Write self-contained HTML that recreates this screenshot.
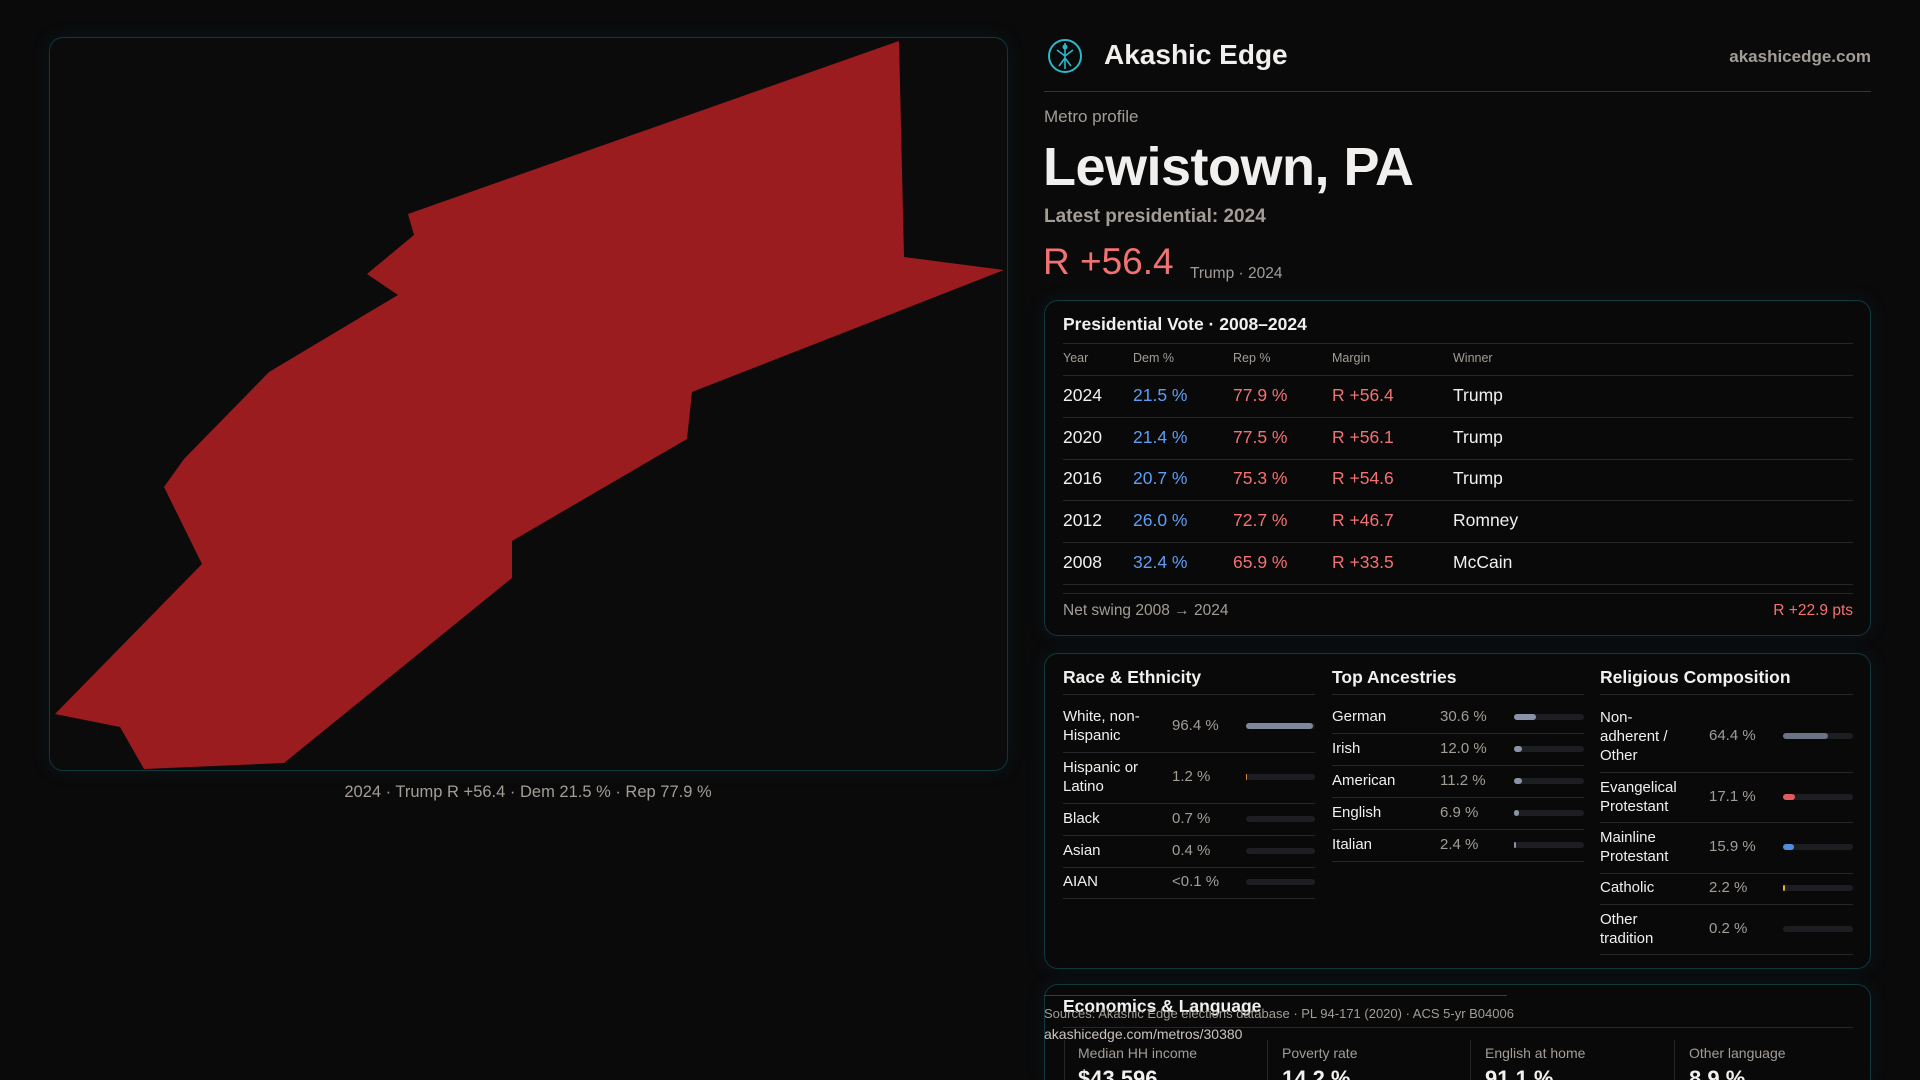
<!DOCTYPE html>
<html style="width:1920px;height:1080px;overflow:hidden"><head><meta charset="utf-8"><style>
*{margin:0;padding:0;box-sizing:border-box}
body{width:1920px;height:1080px;background:#0a0a0b;font-family:"Liberation Sans",sans-serif;color:#f2f0ee;position:relative;overflow:hidden}
.a{position:absolute;white-space:nowrap}
.card{position:absolute;border:1px solid #11383d;border-radius:14px;background:#090909;box-shadow:0 0 18px rgba(20,80,90,0.18)}
.hl{position:absolute;height:1px;background:#26272a}
.m{color:#a39d96}
.b{color:#5e9ef2}
.r{color:#f27272}
.tr{position:absolute;height:6px;border-radius:3px;background:#1d1e21}
.fl{position:absolute;height:6px;border-radius:3px;left:0;top:0}
</style></head><body>
<div class="card" style="left:49px;top:37px;width:959px;height:734px;background:#0b0b0c"></div>
<svg class="a" style="left:0;top:0" width="1030" height="800">
<polygon fill="#9a1c1f" points="899,41 904,257 1004,270 692,392 687,439 512,541 512,578 284,763 144,769 120,727 55,714 202,564 164,487 184,459 269,372 398,295 367,274 414,235 408,214"/>
</svg>
<div class="a m" style="left:0;width:1056px;text-align:center;top:783px;font-size:16.5px">2024 · Trump R +56.4 · Dem 21.5 % · Rep 77.9 %</div>

<svg class="a" style="left:1047px;top:38px" width="36" height="36" viewBox="0 0 36 36">
<circle cx="18" cy="18" r="16" fill="none" stroke="#2bb8c8" stroke-width="2"/>
<path d="M18 5 L18 31 M10 12 L18 18 L26 12 M12 28 L18 20 L24 28" stroke="#2bb8c8" stroke-width="1.6" fill="none"/>
<circle cx="18" cy="9" r="2.5" fill="#2bb8c8"/>
</svg>
<div class="a" style="left:1104px;top:39px;font-size:28px;font-weight:bold">Akashic Edge</div>
<div class="a m" style="right:49px;top:47px;font-size:17px;font-weight:bold">akashicedge.com</div>
<div class="a" style="left:1044px;top:91px;width:827px;height:1px;background:#12434a"></div>
<div class="a m" style="left:1044px;top:107px;font-size:17px">Metro profile</div>
<div class="a" style="left:1043px;top:136px;font-size:54px;font-weight:bold;letter-spacing:-0.5px">Lewistown, PA</div>
<div class="a m" style="left:1044px;top:206px;font-size:19px;font-weight:bold">Latest presidential: 2024</div>
<div class="a r" style="left:1043px;top:241px;font-size:37px">R +56.4</div>
<div class="a m" style="left:1190px;top:265px;font-size:15.5px">Trump · 2024</div>

<div class="card" style="left:1044px;top:300px;width:827px;height:336px"></div>
<div class="a" style="left:1063px;top:314px;font-size:17.5px;font-weight:bold">Presidential Vote · 2008–2024</div>
<div class="hl" style="left:1063px;top:343px;width:790px"></div>
<div class="a m" style="left:1063px;top:351px;font-size:12.5px">Year</div>
<div class="a m" style="left:1133px;top:351px;font-size:12.5px">Dem %</div>
<div class="a m" style="left:1233px;top:351px;font-size:12.5px">Rep %</div>
<div class="a m" style="left:1332px;top:351px;font-size:12.5px">Margin</div>
<div class="a m" style="left:1453px;top:351px;font-size:12.5px">Winner</div>
<div class="hl" style="left:1063px;top:375px;width:790px"></div>
<div style="position:absolute;left:0;top:0;font-size:17.5px">
<div class="a" style="left:1063px;top:385px">2024</div><div class="a b" style="left:1133px;top:385px">21.5 %</div><div class="a r" style="left:1233px;top:385px">77.9 %</div><div class="a r" style="left:1332px;top:385px">R +56.4</div><div class="a" style="left:1453px;top:385px">Trump</div>
<div class="hl" style="left:1063px;top:417px;width:790px"></div>
<div class="a" style="left:1063px;top:427px">2020</div><div class="a b" style="left:1133px;top:427px">21.4 %</div><div class="a r" style="left:1233px;top:427px">77.5 %</div><div class="a r" style="left:1332px;top:427px">R +56.1</div><div class="a" style="left:1453px;top:427px">Trump</div>
<div class="hl" style="left:1063px;top:459px;width:790px"></div>
<div class="a" style="left:1063px;top:468px">2016</div><div class="a b" style="left:1133px;top:468px">20.7 %</div><div class="a r" style="left:1233px;top:468px">75.3 %</div><div class="a r" style="left:1332px;top:468px">R +54.6</div><div class="a" style="left:1453px;top:468px">Trump</div>
<div class="hl" style="left:1063px;top:500px;width:790px"></div>
<div class="a" style="left:1063px;top:510px">2012</div><div class="a b" style="left:1133px;top:510px">26.0 %</div><div class="a r" style="left:1233px;top:510px">72.7 %</div><div class="a r" style="left:1332px;top:510px">R +46.7</div><div class="a" style="left:1453px;top:510px">Romney</div>
<div class="hl" style="left:1063px;top:542px;width:790px"></div>
<div class="a" style="left:1063px;top:552px">2008</div><div class="a b" style="left:1133px;top:552px">32.4 %</div><div class="a r" style="left:1233px;top:552px">65.9 %</div><div class="a r" style="left:1332px;top:552px">R +33.5</div><div class="a" style="left:1453px;top:552px">McCain</div>
<div class="hl" style="left:1063px;top:584px;width:790px"></div>
</div>
<div class="hl" style="left:1063px;top:593px;width:790px"></div>
<div class="a m" style="left:1063px;top:602px;font-size:15.5px">Net swing 2008 → 2024</div>
<div class="a r" style="right:67px;top:602px;font-size:15.5px">R +22.9 pts</div>

<div class="card" style="left:1044px;top:653px;width:827px;height:316px"></div>
<div style="position:absolute;left:0;top:0;font-size:15px">
<div class="a" style="left:1063px;top:667px;font-size:17.5px;font-weight:bold">Race &amp; Ethnicity</div>
<div class="a" style="left:1332px;top:667px;font-size:17.5px;font-weight:bold">Top Ancestries</div>
<div class="a" style="left:1600px;top:667px;font-size:17.5px;font-weight:bold">Religious Composition</div>
<div class="hl" style="left:1063px;top:694px;width:252px"></div>
<div class="hl" style="left:1332px;top:694px;width:252px"></div>
<div class="hl" style="left:1600px;top:694px;width:253px"></div>

<div class="a" style="left:1063px;top:707px;line-height:19px">White, non-<br>Hispanic</div><div class="a m" style="left:1172px;top:717px">96.4 %</div>
<div class="tr" style="left:1246px;top:723px;width:69px"><div class="fl" style="width:67px;background:#7d889b"></div></div>
<div class="hl" style="left:1063px;top:752px;width:252px"></div>
<div class="a" style="left:1063px;top:758px;line-height:19px">Hispanic or<br>Latino</div><div class="a m" style="left:1172px;top:768px">1.2 %</div>
<div class="tr" style="left:1246px;top:774px;width:69px"><div class="fl" style="width:1px;background:#d08a3a"></div></div>
<div class="hl" style="left:1063px;top:803px;width:252px"></div>
<div class="a" style="left:1063px;top:810px">Black</div><div class="a m" style="left:1172px;top:810px">0.7 %</div>
<div class="tr" style="left:1246px;top:816px;width:69px"></div>
<div class="hl" style="left:1063px;top:835px;width:252px"></div>
<div class="a" style="left:1063px;top:842px">Asian</div><div class="a m" style="left:1172px;top:842px">0.4 %</div>
<div class="tr" style="left:1246px;top:848px;width:69px"></div>
<div class="hl" style="left:1063px;top:867px;width:252px"></div>
<div class="a" style="left:1063px;top:873px">AIAN</div><div class="a m" style="left:1172px;top:873px">&lt;0.1 %</div>
<div class="tr" style="left:1246px;top:879px;width:69px"></div>
<div class="hl" style="left:1063px;top:898px;width:252px"></div>

<div class="a" style="left:1332px;top:708px">German</div><div class="a m" style="left:1440px;top:708px">30.6 %</div>
<div class="tr" style="left:1514px;top:714px;width:70px"><div class="fl" style="width:22px;background:#8a93a6"></div></div>
<div class="hl" style="left:1332px;top:733px;width:252px"></div>
<div class="a" style="left:1332px;top:740px">Irish</div><div class="a m" style="left:1440px;top:740px">12.0 %</div>
<div class="tr" style="left:1514px;top:746px;width:70px"><div class="fl" style="width:8px;background:#8a93a6"></div></div>
<div class="hl" style="left:1332px;top:765px;width:252px"></div>
<div class="a" style="left:1332px;top:772px">American</div><div class="a m" style="left:1440px;top:772px">11.2 %</div>
<div class="tr" style="left:1514px;top:778px;width:70px"><div class="fl" style="width:8px;background:#8a93a6"></div></div>
<div class="hl" style="left:1332px;top:797px;width:252px"></div>
<div class="a" style="left:1332px;top:804px">English</div><div class="a m" style="left:1440px;top:804px">6.9 %</div>
<div class="tr" style="left:1514px;top:810px;width:70px"><div class="fl" style="width:5px;background:#8a93a6"></div></div>
<div class="hl" style="left:1332px;top:829px;width:252px"></div>
<div class="a" style="left:1332px;top:836px">Italian</div><div class="a m" style="left:1440px;top:836px">2.4 %</div>
<div class="tr" style="left:1514px;top:842px;width:70px"><div class="fl" style="width:2px;background:#8a93a6"></div></div>
<div class="hl" style="left:1332px;top:861px;width:252px"></div>

<div class="a" style="left:1600px;top:708px;line-height:19px">Non-<br>adherent /<br>Other</div><div class="a m" style="left:1709px;top:727px">64.4 %</div>
<div class="tr" style="left:1783px;top:733px;width:70px"><div class="fl" style="width:45px;background:#6b7385"></div></div>
<div class="hl" style="left:1600px;top:772px;width:253px"></div>
<div class="a" style="left:1600px;top:778px;line-height:19px">Evangelical<br>Protestant</div><div class="a m" style="left:1709px;top:788px">17.1 %</div>
<div class="tr" style="left:1783px;top:794px;width:70px"><div class="fl" style="width:12px;background:#e05a5e"></div></div>
<div class="hl" style="left:1600px;top:822px;width:253px"></div>
<div class="a" style="left:1600px;top:828px;line-height:19px">Mainline<br>Protestant</div><div class="a m" style="left:1709px;top:838px">15.9 %</div>
<div class="tr" style="left:1783px;top:844px;width:70px"><div class="fl" style="width:11px;background:#4f8fe0"></div></div>
<div class="hl" style="left:1600px;top:873px;width:253px"></div>
<div class="a" style="left:1600px;top:879px">Catholic</div><div class="a m" style="left:1709px;top:879px">2.2 %</div>
<div class="tr" style="left:1783px;top:885px;width:70px"><div class="fl" style="width:2px;background:#e0b030"></div></div>
<div class="hl" style="left:1600px;top:904px;width:253px"></div>
<div class="a" style="left:1600px;top:910px;line-height:19px">Other<br>tradition</div><div class="a m" style="left:1709px;top:920px">0.2 %</div>
<div class="tr" style="left:1783px;top:926px;width:70px"></div>
<div class="hl" style="left:1600px;top:954px;width:253px"></div>
</div>

<div class="card" style="left:1044px;top:984px;width:827px;height:96px;border-bottom:none;border-bottom-left-radius:0;border-bottom-right-radius:0"></div>
<div class="a" style="left:1063px;top:996px;font-size:17.5px;font-weight:bold">Economics &amp; Language</div>
<div class="hl" style="left:1044px;top:995px;width:463px;background:#1a4a50"></div>
<div class="hl" style="left:1063px;top:1027px;width:790px"></div>
<div class="a m" style="left:1044px;top:1006px;font-size:13px">Sources: Akashic Edge elections database · PL 94-171 (2020) · ACS 5-yr B04006</div>
<div class="a m" style="left:1044px;top:1026px;font-size:14px;color:#c9c4be">akashicedge.com/metros/30380</div>
<div class="a" style="left:1064px;top:1040px;width:1px;height:40px;background:#26272a"></div>
<div class="a" style="left:1267px;top:1040px;width:1px;height:40px;background:#26272a"></div>
<div class="a" style="left:1470px;top:1040px;width:1px;height:40px;background:#26272a"></div>
<div class="a" style="left:1674px;top:1040px;width:1px;height:40px;background:#26272a"></div>
<div class="a m" style="left:1078px;top:1045px;font-size:14px">Median HH income</div>
<div class="a m" style="left:1282px;top:1045px;font-size:14px">Poverty rate</div>
<div class="a m" style="left:1485px;top:1045px;font-size:14px">English at home</div>
<div class="a m" style="left:1689px;top:1045px;font-size:14px">Other language</div>
<div class="a" style="left:1078px;top:1066px;font-size:22px;font-weight:bold">$43,596</div>
<div class="a" style="left:1282px;top:1066px;font-size:22px;font-weight:bold">14.2 %</div>
<div class="a" style="left:1485px;top:1066px;font-size:22px;font-weight:bold">91.1 %</div>
<div class="a" style="left:1689px;top:1066px;font-size:22px;font-weight:bold">8.9 %</div>
</body></html>
